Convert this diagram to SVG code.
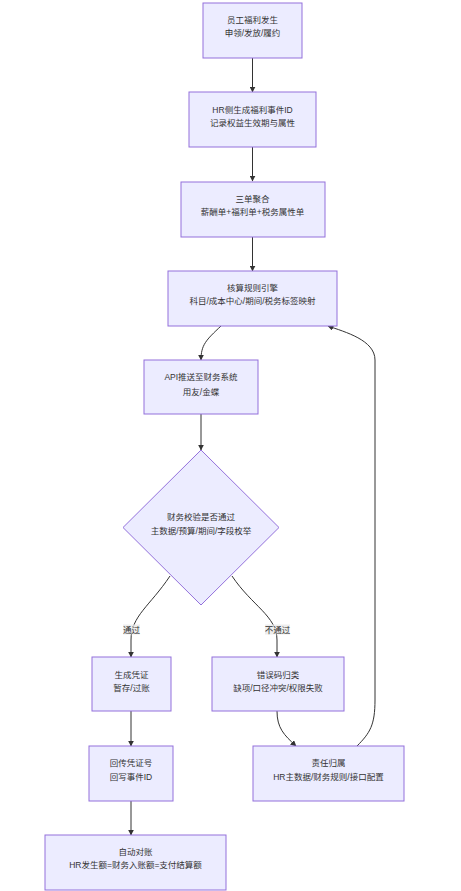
<svg xmlns="http://www.w3.org/2000/svg" width="461" height="891" viewBox="0 0 461 891">
<style>
.n{fill:#ECECFF;stroke:#9370DB;stroke-width:1}
.t{font-family:"Liberation Sans","Noto Sans CJK SC",sans-serif;font-size:8.5px;fill:#333;text-anchor:middle}
.e{fill:none;stroke:#333;stroke-width:1}
.lb{fill:#e8e8e8;opacity:0.8}
</style>
<defs>
<marker id="a" viewBox="0 0 10 10" refX="9" refY="5" markerWidth="6" markerHeight="6" orient="auto" markerUnits="userSpaceOnUse">
<path d="M0,0L10,5L0,10z" fill="#333"/>
</marker>
</defs>
<rect width="461" height="891" fill="#fff"/>
<g id="edges">
<path class="e" d="M252.5,58V92" marker-end="url(#a)"/>
<path class="e" d="M252.5,147V181" marker-end="url(#a)"/>
<path class="e" d="M252.5,237V271" marker-end="url(#a)"/>
<path class="e" d="M221,326C206,340 201,345 201,360" marker-end="url(#a)"/>
<path class="e" d="M201,414V450" marker-end="url(#a)"/>
<path class="e" d="M170,576C150,606 131,616 131,640L131,657" marker-end="url(#a)"/>
<path class="e" d="M232,576C252,606 277,616 277,640L277,657" marker-end="url(#a)"/>
<path class="e" d="M277,711C277,728 284,735 296,746" marker-end="url(#a)"/>
<path class="e" d="M357,746C370,733 375,725 375,700L375,360C375,340 345,332 328,326" marker-end="url(#a)"/>
<path class="e" d="M131,711V746" marker-end="url(#a)"/>
<path class="e" d="M131,801V835" marker-end="url(#a)"/>
<rect class="lb" x="123" y="624.5" width="17" height="10"/>
<text class="t" x="131.5" y="632.5">通过</text>
<rect class="lb" x="265" y="624.5" width="25" height="10"/>
<text class="t" x="277.5" y="632.5">不通过</text>
</g>
<g id="n1"><rect class="n" x="203" y="3" width="99" height="55"/>
<text class="t" x="252.5" y="23">员工福利发生</text><text class="t" x="252.5" y="36">申领/发放/履约</text></g>
<g id="n2"><rect class="n" x="189" y="92" width="127" height="55"/>
<text class="t" x="252.5" y="113">HR侧生成福利事件ID</text><text class="t" x="252.5" y="126">记录权益生效期与属性</text></g>
<g id="n3"><rect class="n" x="181" y="182" width="144" height="55"/>
<text class="t" x="252.5" y="202">三单聚合</text><text class="t" x="252.5" y="215">薪酬单+福利单+税务属性单</text></g>
<g id="n4"><rect class="n" x="168" y="271" width="169" height="55"/>
<text class="t" x="252.5" y="291">核算规则引擎</text><text class="t" x="252.5" y="304">科目/成本中心/期间/税务标签映射</text></g>
<g id="n5"><rect class="n" x="144" y="360" width="114" height="54"/>
<text class="t" x="201" y="380">API推送至财务系统</text><text class="t" x="201" y="395">用友/金蝶</text></g>
<g id="n6"><polygon class="n" points="201,450 279,527.5 201,605 123,527.5"/>
<text class="t" x="201" y="520">财务校验是否通过</text><text class="t" x="201" y="534">主数据/预算/期间/字段枚举</text></g>
<g id="n7"><rect class="n" x="92" y="657" width="79" height="54"/>
<text class="t" x="131.5" y="678">生成凭证</text><text class="t" x="131.5" y="691">暂存/过账</text></g>
<g id="n8"><rect class="n" x="212" y="657" width="132" height="54"/>
<text class="t" x="278" y="678">错误码归类</text><text class="t" x="278" y="691">缺项/口径冲突/权限失败</text></g>
<g id="n9"><rect class="n" x="89" y="746" width="84" height="55"/>
<text class="t" x="131" y="766">回传凭证号</text><text class="t" x="131" y="780">回写事件ID</text></g>
<g id="n10"><rect class="n" x="253" y="746" width="151" height="55"/>
<text class="t" x="328.5" y="766">责任归属</text><text class="t" x="328.5" y="780">HR主数据/财务规则/接口配置</text></g>
<g id="n11"><rect class="n" x="45" y="835" width="181" height="55"/>
<text class="t" x="135.5" y="855">自动对账</text><text class="t" x="135.5" y="868">HR发生额=财务入账额=支付结算额</text></g>
</svg>
